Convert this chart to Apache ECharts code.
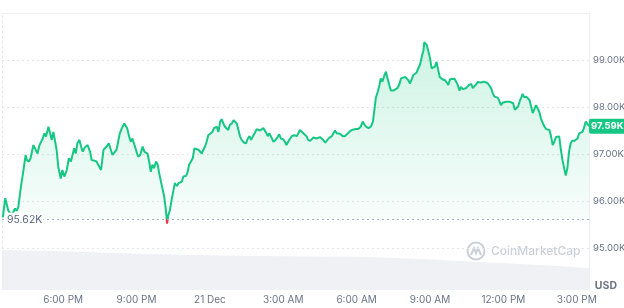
<!DOCTYPE html>
<html><head><meta charset="utf-8">
<script src="https://cdn.jsdelivr.net/npm/echarts@6/dist/echarts.min.js"></script>
<style>html,body{margin:0;padding:0;background:#fff}#c{width:624px;height:308px}</style>
</head><body><div id="c"></div>
<script>
const START = 930; // 15:30 on 20 Dec, in minutes since midnight
const minutes = [2,8,15,23,32,36,40,46,52,58,
61,66,70,77,81,87,92,95,100,104,
108,114,118,122,126,130,134,138,144,148,
153,159,164,169,173,177,181,185,190,194,
198,204,210,216,220,226,232,236,240,243,
249,253,257,262,267,271,275,281,285,289,
294,298,300,303,307,312,316,320,325,330,
334,339,343,345,349,353,357,361,365,369,
373,378,382,385,390,394,398,402,405,408,
412,416,420,424,429,433,437,441,445,451,
455,459,463,468,472,476,482,486,490,494,
498,502,506,510,516,520,524,527,531,535,
539,543,547,551,555,559,564,568,572,576,
580,584,588,594,599,603,607,611,615,621,
625,629,633,637,641,645,649,652,656,660,
666,671,676,680,684,690,694,698,702,707,
711,717,723,727,731,735,739,743,747,751,
756,760,764,768,772,776,780,784,788,793,
797,801,805,809,813,817,821,825,829,836,
841,846,852,858,862,868,874,880,885,888,
893,899,905,910,913,917,922,926,929,933,
938,942,945,950,954,960,964,970,975,979,
983,989,993,997,1001,1005,1009,1013,1017,1021,
1025,1028,1031,1034,1036,1042,1046,1050,1054,1058,
1062,1066,1070,1074,1080,1087,1091,1095,1099,1103,
1110,1114,1118,1122,1126,1130,1134,1138,1142,1146,
1151,1155,1159,1163,1167,1171,1175,1179,1183,1187,
1192,1195,1200,1204,1208,1212,1216,1220,1224,1228,
1232,1236,1240,1246,1250,1254,1258,1262,1266,1271,
1275,1277,1281,1286,1290,1294,1298,1302,1306,1310,
1314,1318,1322,1327,1331,1335,1339,1343,1347,1351,
1355,1359,1363,1367,1371,1375,1380,1383,1387,1391,
1395,1399,1404,1408,1412,1416,1420,1424,1428,1432,
1436,1440];
const prices = [95.65,96.06,95.81,95.68,95.84,95.79,95.87,96.28,96.62,96.98,
96.87,96.84,96.91,97.19,97.23,97.01,97.19,97.16,97.33,97.44,
97.37,97.58,97.44,97.30,97.47,97.44,97.09,96.73,96.48,96.66,
96.52,96.66,96.91,96.84,96.87,97.12,97.01,97.23,97.30,97.16,
97.05,97.15,97.19,97.05,96.87,96.86,96.84,96.77,96.77,96.66,
97.09,97.05,97.16,97.23,97.09,96.98,97.01,97.09,97.10,97.44,
97.55,97.58,97.65,97.69,97.55,97.37,97.26,97.33,97.19,97.05,
96.94,96.98,96.94,97.16,97.05,97.09,97.01,96.84,96.62,96.77,
96.70,96.84,96.77,96.62,96.41,96.39,96.09,95.81,95.52,95.70,
95.81,96.02,96.20,96.38,96.32,96.38,96.34,96.41,96.52,96.53,
96.60,96.77,96.73,96.91,97.12,97.16,97.09,97.10,97.01,97.09,
97.16,97.26,97.40,97.44,97.47,97.55,97.53,97.58,97.47,97.69,
97.74,97.65,97.58,97.55,97.51,97.62,97.65,97.72,97.76,97.65,
97.51,97.37,97.30,97.24,97.23,97.33,97.38,97.30,97.37,97.46,
97.53,97.51,97.50,97.51,97.55,97.55,97.44,97.38,97.44,97.43,
97.26,97.30,97.36,97.42,97.33,97.31,97.26,97.19,97.26,97.33,
97.38,97.40,97.38,97.44,97.51,97.47,97.44,97.45,97.38,97.30,
97.28,97.30,97.35,97.31,97.33,97.37,97.36,97.33,97.30,97.24,
97.28,97.33,97.37,97.38,97.44,97.50,97.44,97.45,97.43,97.38,
97.38,97.42,97.47,97.51,97.55,97.53,97.53,97.58,97.69,97.64,
97.58,97.55,97.58,97.69,97.90,98.19,98.33,98.47,98.61,98.54,
98.67,98.75,98.64,98.47,98.35,98.35,98.36,98.40,98.49,98.61,
98.64,98.64,98.66,98.57,98.50,98.59,98.68,98.72,98.73,98.82,
98.89,98.93,99.11,99.21,99.38,99.32,99.18,99.04,98.82,98.79,
98.86,98.96,98.79,98.64,98.59,98.57,98.56,98.47,98.59,98.61,
98.60,98.54,98.47,98.35,98.43,98.38,98.35,98.40,98.43,98.47,
98.49,98.40,98.38,98.48,98.53,98.52,98.52,98.48,98.54,98.56,
98.50,98.47,98.40,98.29,98.22,98.22,98.20,98.13,98.04,98.09,
98.11,98.11,98.13,98.11,98.11,98.08,97.94,97.90,98.01,98.15,
98.22,98.28,98.21,98.22,98.23,98.15,98.01,97.87,97.90,98.04,
98.02,97.90,97.76,97.65,97.58,97.53,97.53,97.51,97.37,97.19,
97.26,97.36,97.40,97.37,97.09,96.87,96.66,96.54,96.70,97.05,
97.23,97.28,97.28,97.28,97.33,97.44,97.47,97.47,97.56,97.69,
97.64,97.59];
const volMinutes = [0,118,240,363,510,633,756,878,1001,1124,1246,1369,1440];
const volValues = [95,93,89,86,83,81,80,79,75,69,63,57,52];
const tickValues = [1080,1260,1440,1620,1800,1980,2160,2340];
const tickLabels = ['6:00 PM','9:00 PM','21 Dec','3:00 AM','6:00 AM','9:00 AM','12:00 PM','3:00 PM'];
const baseline = 95.62;
const lastPrice = 97.59;

const font = 'Inter, "Noto Sans", sans-serif';
const labelColor = '#6b7487';
const green = '#16c784', red = '#ea3943';

const chart = echarts.init(document.getElementById('c'), null, {renderer: 'canvas'});
chart.setOption({
  animation: false,
  textStyle: {fontFamily: font},
  grid: [
    {left: 2, right: 35, top: 13, height: 235, outerBoundsMode: 'none', containLabel: false},
    {left: 2, right: 35, top: 248, bottom: 18, outerBoundsMode: 'none', containLabel: false}
  ],
  xAxis: [
    {gridIndex: 0, type: 'value', min: START, max: START + 1440, position: 'top',
     axisLine: {show: true, lineStyle: {color: '#eceef2', width: 1}}, axisTick: {show: false},
     axisLabel: {show: false}, splitLine: {show: false}},
    {gridIndex: 1, type: 'value', min: START, max: START + 1440, position: 'bottom',
     axisLine: {show: false}, axisTick: {show: false}, splitLine: {show: false},
     axisLabel: {customValues: tickValues, formatter: v => { const i = tickValues.indexOf(v); return i >= 0 ? tickLabels[i] : ''; },
       color: labelColor, fontSize: 10, margin: 5}}
  ],
  yAxis: [
    {gridIndex: 0, type: 'value', position: 'right', min: 95, max: 100, interval: 1,
     axisLine: {show: true, lineStyle: {color: '#eceef2'}}, axisTick: {show: false},
     axisLabel: {color: labelColor, fontSize: 9.5, margin: 4, formatter: v => v >= 100 ? '' : v.toFixed(2) + 'K'},
     splitLine: {show: true, lineStyle: {color: '#e3e6eb', type: [2, 3]}}},
    {gridIndex: 1, type: 'value', position: 'right', min: 0, max: 100,
     axisLine: {show: true, lineStyle: {color: '#eceef2'}}, axisTick: {show: false},
     axisLabel: {show: false}, splitLine: {show: false}},
    {gridIndex: 0, type: 'value', position: 'left', min: 95, max: 100,
     axisLine: {show: true, lineStyle: {color: '#e3e6eb', type: [2, 3]}}, axisTick: {show: false},
     axisLabel: {show: false}, splitLine: {show: false}}
  ],
  visualMap: {show: false, type: 'piecewise', seriesIndex: 0, dimension: 1,
    pieces: [{gt: 90, lte: baseline, color: red}, {gt: baseline, lte: 110, color: green}],
    outOfRange: {color: green}},
  series: [
    {type: 'line', xAxisIndex: 0, yAxisIndex: 0, symbol: 'none', showSymbol: false,
     data: minutes.map((m, i) => [START + m, prices[i]]),
     lineStyle: {width: 2},
     areaStyle: {origin: baseline, color: new echarts.graphic.LinearGradient(0, 0, 0, 1, [
       {offset: 0, color: 'rgba(22,199,132,0.30)'}, {offset: 1, color: 'rgba(22,199,132,0.04)'}])},
     markLine: {silent: true, symbol: 'none', animation: false, data: [
       {yAxis: baseline, lineStyle: {color: '#a7b0bf', type: [2, 3], width: 1},
        label: {formatter: baseline.toFixed(2) + 'K', position: 'insideStartTop', distance: [4, -7],
          color: '#58667e', fontSize: 10.5, backgroundColor: '#fff', padding: [1, 1]}},
       {yAxis: lastPrice, lineStyle: {color: 'rgba(0,0,0,0)', width: 0},
        label: {formatter: lastPrice.toFixed(2) + 'K', position: 'end', distance: 0, color: '#fff',
          fontWeight: 'bold', fontSize: 9.5, backgroundColor: green, padding: [3, 2, 2, 2], borderRadius: 2}}
     ]}},
    {type: 'line', xAxisIndex: 1, yAxisIndex: 1, symbol: 'none', silent: true,
     data: volMinutes.map((m, i) => [START + m, volValues[i]]),
     lineStyle: {width: 0}, areaStyle: {color: '#eff1f5', opacity: 1}}
  ],
  graphic: [
    {type: 'text', right: 7, top: 280, style: {text: 'USD', fill: '#6b7487', font: 'bold 10.5px Inter'}},
    {type: 'group', left: 465, top: 240, children: [
      {type: 'circle', shape: {cx: 9, cy: 9, r: 8.5}, style: {fill: 'none', stroke: '#cbd0d8', lineWidth: 2}},
      {type: 'polyline', shape: {points: [[4, 13], [7, 6], [9, 11], [11, 6], [14, 13]]}, style: {stroke: '#cbd0d8', lineWidth: 2, fill: 'none'}},
      {type: 'text', x: 24, y: 9, style: {text: 'CoinMarketCap', fill: '#cbd0d8', font: '500 12px Inter', verticalAlign: 'middle'}}
    ]}
  ]
});
</script></body></html>
